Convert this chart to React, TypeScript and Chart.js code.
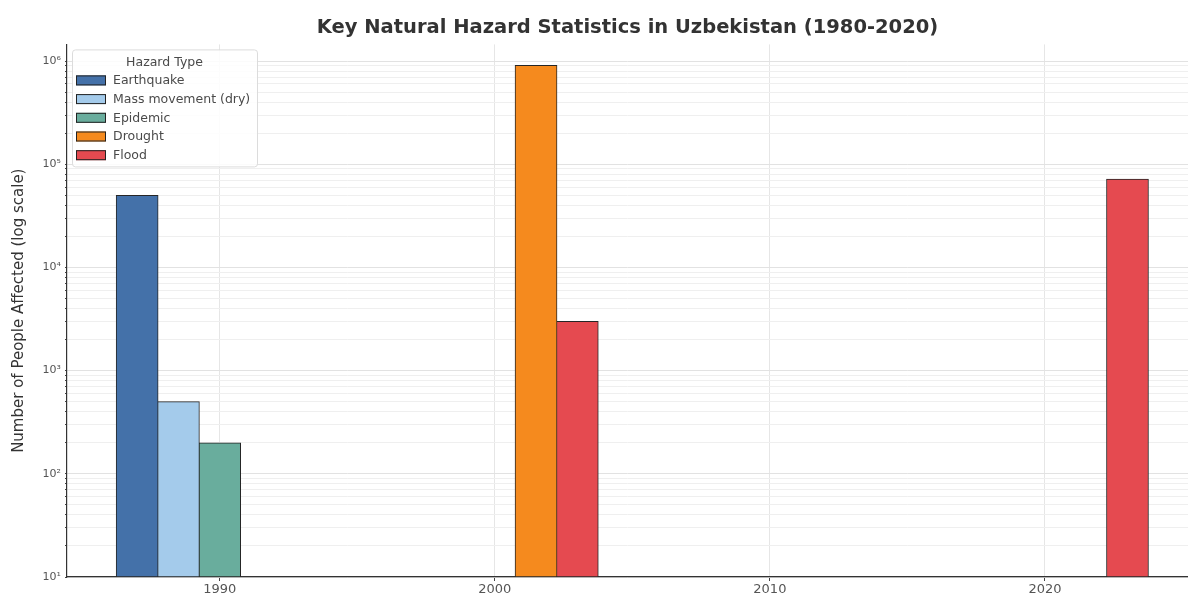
import React, { useEffect, useRef } from "react";
import { Chart, registerables } from "chart.js";

Chart.register(...registerables);

// ---- Data ----
const chartTitle = "Key Natural Hazard Statistics in Uzbekistan (1980-2020)";
const yAxisTitle = "Number of People Affected (log scale)";
const legendTitle = "Hazard Type";

const hazardTypes = ["Earthquake", "Mass movement (dry)", "Epidemic", "Drought", "Flood"];
const hazardColors = ["#4471a9", "#a4cbeb", "#69ad9d", "#f58a1e", "#e54a50"];

const earthquakeYears = [1987];
const earthquakeAffected = [50000];
const massMovementYears = [1988.5];
const massMovementAffected = [500];
const epidemicYears = [1990];
const epidemicAffected = [200];
const droughtYears = [2001.5];
const droughtAffected = [910000];
const floodYears = [2003, 2023];
const floodAffected = [3000, 72000];

const xTickYears = [1990, 2000, 2010, 2020];
const yMajorTicks = [10, 100, 1000, 10000, 100000, 1000000];
const yMinorMultipliers = [2, 3, 4, 5, 6, 7, 8, 9];

const xMin = 1984.45;
const xMax = 2025.2;
const yMin = 10;
const yMax = 1.45e6;

const seriesYears = [earthquakeYears, massMovementYears, epidemicYears, droughtYears, floodYears];
const seriesValues = [earthquakeAffected, massMovementAffected, epidemicAffected, droughtAffected, floodAffected];

const SUP: Record<string, string> = {
  "0": "\u2070", "1": "\u00b9", "2": "\u00b2", "3": "\u00b3", "4": "\u2074",
  "5": "\u2075", "6": "\u2076", "7": "\u2077", "8": "\u2078", "9": "\u2079",
};

const isMajor = (v: number) => yMajorTicks.some((m) => Math.abs(m - v) / m < 1e-6);

const FONT = '"DejaVu Sans", "Liberation Sans", sans-serif';

const legendPlugin = {
  id: "hazardLegend",
  afterDraw(chart: any) {
    const { ctx, chartArea } = chart;
    const x = chartArea.left + 5;
    const y = chartArea.top + 5;
    const w = 185;
    const h = 117;
    ctx.save();
    ctx.fillStyle = "rgba(255,255,255,0.85)";
    ctx.strokeStyle = "#dcdcdc";
    ctx.lineWidth = 1;
    ctx.beginPath();
    if ((ctx as any).roundRect) (ctx as any).roundRect(x + 0.5, y + 0.5, w, h, 3);
    else ctx.rect(x + 0.5, y + 0.5, w, h);
    ctx.fill();
    ctx.stroke();

    ctx.font = `12.5px ${FONT}`;
    ctx.fillStyle = "#4a4a4a";
    ctx.textAlign = "center";
    ctx.textBaseline = "middle";
    ctx.fillText(legendTitle, x + w / 2, y + 13);

    ctx.textAlign = "left";
    chart.data.datasets.forEach((ds: any, i: number) => {
      const cy = y + 31 + i * 18.7;
      ctx.fillStyle = ds.backgroundColor;
      ctx.fillRect(x + 4, cy - 5, 30, 10);
      ctx.strokeStyle = "#222222";
      ctx.lineWidth = 1;
      ctx.strokeRect(x + 4.5, cy - 4.5, 29, 9);
      ctx.fillStyle = "#4a4a4a";
      ctx.fillText(ds.label, x + 41, cy + 0.5);
    });
    ctx.restore();
  },
};

export default function App() {
  const canvasRef = useRef<HTMLCanvasElement | null>(null);

  useEffect(() => {
    document.body.style.margin = "0";
    const canvas = canvasRef.current;
    if (!canvas) return;

    const datasets = hazardTypes.map((name, i) => ({
      type: "bar" as const,
      label: name,
      data: seriesYears[i].map((yr, j) => ({ x: yr, y: seriesValues[i][j] })),
      backgroundColor: hazardColors[i],
      borderColor: "#262626",
      borderWidth: 1,
      borderSkipped: false,
      grouped: false,
      barThickness: 42,
    }));

    const yTickValues: number[] = [];
    yMajorTicks.forEach((m) => {
      yTickValues.push(m);
      yMinorMultipliers.forEach((k) => yTickValues.push(m * k));
    });

    const chart = new Chart(canvas, {
      type: "bar",
      data: { datasets },
      plugins: [legendPlugin],
      options: {
        animation: false,
        responsive: false,
        devicePixelRatio: 1,
        layout: { padding: { left: 0, right: 0, top: 0, bottom: 0 } },
        plugins: {
          legend: { display: false },
          tooltip: { enabled: false },
          title: {
            display: true,
            text: chartTitle,
            fullSize: false,
            color: "#333333",
            font: { family: FONT, size: 19.5, weight: "bold" },
            padding: { top: 16, bottom: 5 },
          },
        },
        scales: {
          x: {
            type: "linear",
            min: xMin,
            max: xMax,
            offset: false,
            afterFit: (scale: any) => {
              scale.height = 18;
            },
            afterBuildTicks: (scale: any) => {
              scale.ticks = xTickYears.map((v) => ({ value: v }));
            },
            ticks: {
              autoSkip: false,
              maxRotation: 0,
              padding: 1,
              color: "#555555",
              font: { family: FONT, size: 13 },
              callback: (v: any) => String(v),
            },
            grid: {
              offset: false,
              color: "#e6e6e6",
              lineWidth: 1,
              drawTicks: true,
              tickLength: 4,
              tickColor: "#444444",
            },
            border: { display: true, color: "#333333", width: 1.2 },
          },
          y: {
            type: "logarithmic",
            min: yMin,
            max: yMax,
            afterFit: (scale: any) => {
              scale.width = 67;
            },
            afterBuildTicks: (scale: any) => {
              scale.ticks = yTickValues
                .filter((v) => v >= yMin && v <= yMax)
                .map((v) => ({ value: v, major: isMajor(v) }));
            },
            ticks: {
              autoSkip: false,
              padding: 4,
              color: "#555555",
              font: { family: FONT, size: 11 },
              callback: (v: any) => {
                const n = Number(v);
                if (!isMajor(n)) return "";
                const exp = String(Math.round(Math.log10(n)));
                return "10" + exp.split("").map((c) => SUP[c]).join("");
              },
            },
            grid: {
              color: (c: any) => (c.tick && isMajor(c.tick.value) ? "#e2e2e2" : "#efefef"),
              lineWidth: 1,
              drawTicks: true,
              tickLength: (c: any) => (c.tick && isMajor(c.tick.value) ? 4 : 2),
              tickColor: "#444444",
            } as any,
            border: { display: true, color: "#333333", width: 1.2 },
            title: {
              display: true,
              text: yAxisTitle,
              color: "#333333",
              font: { family: FONT, size: 15 },
              padding: { top: 10, bottom: 0 },
            },
          },
        },
      } as any,
    });

    return () => chart.destroy();
  }, []);

  return (
    <div style={{ width: 1188, height: 595, background: "#ffffff" }}>
      <canvas ref={canvasRef} width={1188} height={595} style={{ display: "block" }} />
    </div>
  );
}
